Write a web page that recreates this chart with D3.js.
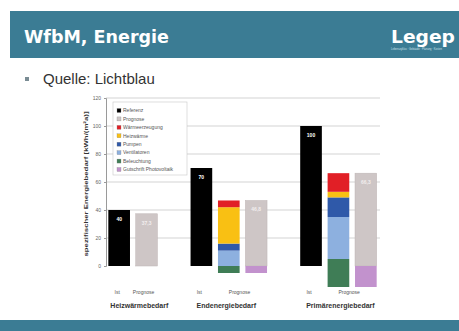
<!DOCTYPE html>
<html>
<head>
<meta charset="utf-8">
<script src="https://cdn.jsdelivr.net/npm/d3@7"></script>
<style>
  html, body { margin: 0; padding: 0; background: #fff; }
  svg { display: block; }
</style>
</head>
<body>
<svg id="c" width="459" height="331"></svg>
<script>
// ---- data ----
const categories = ["Heizwärmebedarf", "Endenergiebedarf", "Primärenergiebedarf"];
const barLabels = ["Ist", "Prognose"];
const istValues = [40, 70, 100];                 // black bars
const prognoseValues = [37.3, 46.8, 66.3];       // grey bars
const pvValues = [0, -5, -15];                   // purple (below grey bars)
const stackBase = [null, -5, -15];               // start of coloured stack
const beleuchtung = [null, 5, 20];               // green
const ventilatoren = [null, 11, 30];             // light blue
const pumpen = [null, 5, 14];                    // blue
const heizwaerme = [null, 26, 4];                // yellow
const waermeerzeugung = [null, 4.8, 13.3];       // red
const legendNames = ["Referenz", "Prognose", "Wärmeerzeugung", "Heizwärme", "Pumpen", "Ventilatoren", "Beleuchtung", "Gutschrift Photovoltaik"];
const yTicks = [0, 20, 40, 60, 80, 100, 120];

const colors = {
  "Referenz": "#000000", "Prognose": "#cec6c6", "Wärmeerzeugung": "#e11f26",
  "Heizwärme": "#f9c013", "Pumpen": "#2f59a9", "Ventilatoren": "#8db0df",
  "Beleuchtung": "#3f7d56", "Gutschrift Photovoltaik": "#c292cd"
};
const stackSeries = [
  {name: "Beleuchtung", values: beleuchtung},
  {name: "Ventilatoren", values: ventilatoren},
  {name: "Pumpen", values: pumpen},
  {name: "Heizwärme", values: heizwaerme},
  {name: "Wärmeerzeugung", values: waermeerzeugung}
];

const svg = d3.select("#c");
const teal = "#3b7c94";

// header
svg.append("rect").attr("x", 10).attr("y", 11).attr("width", 449).attr("height", 47).attr("fill", teal);
svg.append("text").attr("x", 24).attr("y", 43).text("WfbM, Energie")
  .attr("font-family", "DejaVu Sans").attr("font-weight", "bold").attr("font-size", 17.5).attr("fill", "#fff");
svg.append("text").attr("x", 391).attr("y", 43).text("Legep")
  .attr("font-family", "DejaVu Sans").attr("font-weight", "bold").attr("font-size", 17.5).attr("fill", "#fff")
  .attr("textLength", 64).attr("lengthAdjust", "spacingAndGlyphs");
svg.append("text").attr("x", 391).attr("y", 50).text("Lebenszyklus · Gebäude · Planung · Kosten")
  .attr("font-family", "Liberation Sans").attr("font-size", 2.6).attr("fill", "#cfe0e8");
// footer
svg.append("rect").attr("x", 0).attr("y", 320).attr("width", 459).attr("height", 11).attr("fill", teal);

// bullet
svg.append("rect").attr("x", 25).attr("y", 77).attr("width", 4).attr("height", 4).attr("fill", "#7a8c94");
svg.append("text").attr("x", 43).attr("y", 84).text("Quelle: Lichtblau")
  .attr("font-family", "Liberation Sans").attr("font-size", 15).attr("fill", "#333");

// ---- chart ----
const y = d3.scaleLinear().domain([0, 120]).range([266, 98]);
const slots = ["0-0", "0-1", "gap1", "1-0", "1-1", "1-2", "gap2", "2-0", "2-1", "2-2"];
const x = d3.scaleBand().domain(slots).range([106, 379]).paddingInner(0.21).paddingOuter(0.085);
const bw = x.bandwidth();

// gridlines
svg.append("g").selectAll("line").data(yTicks.filter(d => d > 0)).join("line")
  .attr("x1", 106).attr("x2", 380).attr("y1", d => y(d)).attr("y2", d => y(d))
  .attr("stroke", "#c8c8c8").attr("stroke-width", 0.8);

// y axis
const yAxis = d3.axisLeft(y).tickValues(yTicks).tickSize(2).tickPadding(3);
const gy = svg.append("g").attr("transform", "translate(106,0)").call(yAxis);
gy.select(".domain").attr("stroke", "#9a9a9a");
gy.selectAll(".tick line").attr("stroke", "#9a9a9a");
gy.selectAll("text").attr("font-family", "Liberation Sans").attr("font-size", 5).attr("fill", "#666");

svg.append("text")
  .attr("transform", "translate(88,184) rotate(-90)")
  .attr("text-anchor", "middle")
  .attr("font-family", "Liberation Sans").attr("font-weight", "bold").attr("font-size", 5.5).attr("fill", "#333")
  .attr("textLength", 145).attr("lengthAdjust", "spacingAndGlyphs")
  .text("spezifischer Energiebedarf [kWh/(m²a)]");

const bars = svg.append("g");
categories.forEach((cat, i) => {
  // Ist bar
  const xi = x(i + "-0");
  bars.append("rect").attr("x", xi).attr("width", bw)
    .attr("y", y(istValues[i])).attr("height", y(0) - y(istValues[i])).attr("fill", colors["Referenz"]);
  bars.append("text").attr("x", xi + bw / 2).attr("y", y(istValues[i]) + 11)
    .attr("text-anchor", "middle").attr("font-family", "Liberation Sans").attr("font-weight", "bold")
    .attr("font-size", 5).attr("fill", "#fff").text(istValues[i]);

  let greyKey = i === 0 ? "0-1" : i + "-2";
  if (i > 0) {
    let acc = stackBase[i];
    const xs = x(i + "-1");
    stackSeries.forEach(s => {
      const v = s.values[i];
      bars.append("rect").attr("x", xs).attr("width", bw)
        .attr("y", y(acc + v)).attr("height", y(acc) - y(acc + v)).attr("fill", colors[s.name]);
      acc += v;
    });
  }
  const xg = x(greyKey);
  bars.append("rect").attr("x", xg).attr("width", bw)
    .attr("y", y(prognoseValues[i])).attr("height", y(0) - y(prognoseValues[i]))
    .attr("fill", colors["Prognose"]).attr("stroke", "#bdb4b4").attr("stroke-width", 0.5);
  if (pvValues[i] < 0) {
    bars.append("rect").attr("x", xg).attr("width", bw)
      .attr("y", y(0)).attr("height", y(pvValues[i]) - y(0)).attr("fill", colors["Gutschrift Photovoltaik"]);
  }
  bars.append("text").attr("x", xg + bw / 2).attr("y", y(prognoseValues[i]) + 11)
    .attr("text-anchor", "middle").attr("font-family", "Liberation Sans").attr("font-weight", "bold")
    .attr("font-size", 5).attr("fill", "#f2eeee").text(String(prognoseValues[i]).replace(".", ","));

  // x labels
  const istC = xi + bw / 2;
  const progC = i === 0 ? xg + bw / 2 : (x(i + "-1") + xg + bw) / 2;
  svg.append("text").attr("x", istC - 2).attr("y", 294).attr("text-anchor", "middle")
    .attr("font-family", "Liberation Sans").attr("font-size", 5).attr("fill", "#555").text(barLabels[0]);
  svg.append("text").attr("x", progC - 3).attr("y", 294).attr("text-anchor", "middle")
    .attr("font-family", "Liberation Sans").attr("font-size", 5).attr("fill", "#555").text(barLabels[1]);
  svg.append("text").attr("x", xi + (i === 0 ? 2 : 6)).attr("y", 308).attr("text-anchor", "start")
    .attr("font-family", "Liberation Sans").attr("font-weight", "bold").attr("font-size", 7).attr("fill", "#333").text(cat);
});

// legend
const lg = svg.append("g");
lg.append("rect").attr("x", 113).attr("y", 102).attr("width", 74).attr("height", 73)
  .attr("fill", "#fff").attr("stroke", "#c8c8c8").attr("stroke-width", 0.6);
const ly = d3.scalePoint().domain(legendNames).range([110.5, 169.5]);
legendNames.forEach(n => {
  lg.append("rect").attr("x", 117).attr("y", ly(n) - 2).attr("width", 4).attr("height", 4)
    .attr("fill", colors[n]).attr("stroke", "#888").attr("stroke-width", 0.3);
  lg.append("text").attr("x", 123).attr("y", ly(n) + 1.8)
    .attr("font-family", "Liberation Sans").attr("font-size", 5).attr("fill", "#555").text(n);
});
</script>
</body>
</html>
